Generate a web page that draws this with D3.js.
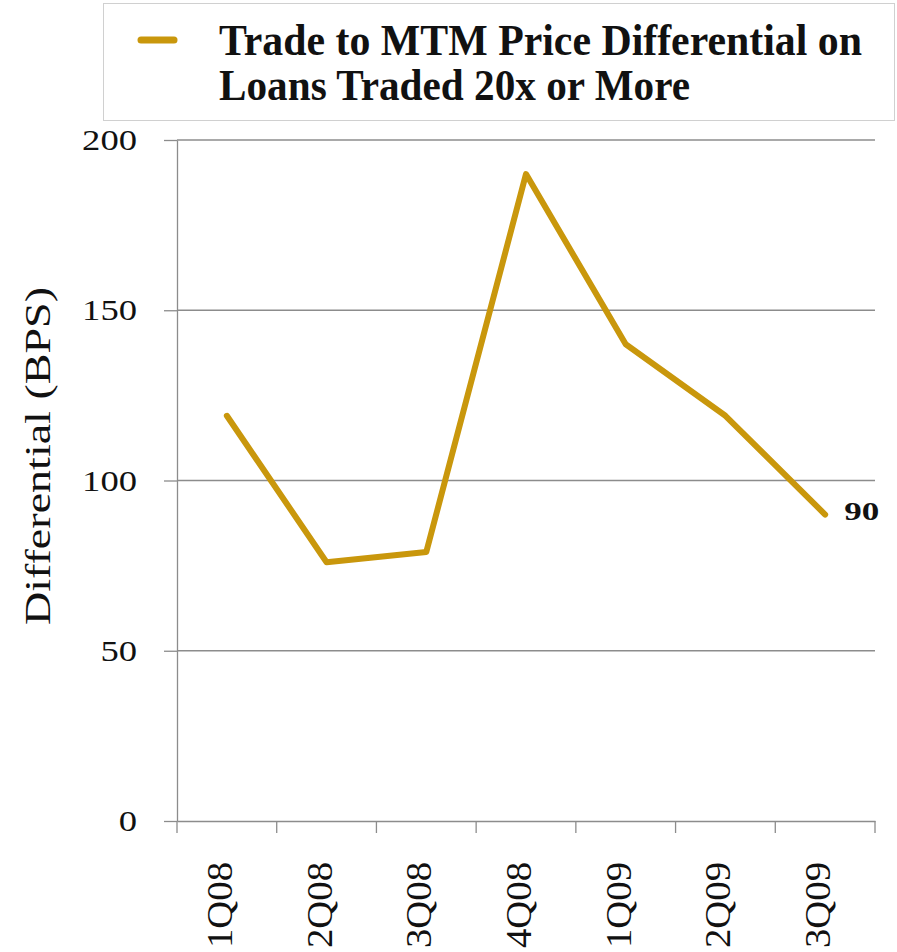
<!DOCTYPE html>
<html>
<head>
<meta charset="utf-8">
<script src="https://cdn.jsdelivr.net/npm/d3@7"></script>
<style>
  html, body { margin: 0; padding: 0; background: #fff; }
  svg { display: block; }
  text { font-family: "Liberation Serif", "DejaVu Serif", serif; }
</style>
</head>
<body>
<svg id="chart" width="897" height="952"></svg>
<script>
// Quarterly trade-to-MTM differential, basis points
const quarters = ["1Q08", "2Q08", "3Q08", "4Q08", "1Q09", "2Q09", "3Q09"];
const differential = [119, 76, 79, 190, 140, 119, 90];
const yTicks = [0, 50, 100, 150, 200];
const seriesName = ["Trade to MTM Price Differential on", "Loans Traded 20x or More"];
const yTitle = "Differential (BPS)";

const lineColor = "#C9970C";
const gridColor = "#8c8c8c";

const svg = d3.select("#chart");
const plot = { left: 177, right: 875, top: 140, bottom: 821 };

const x = d3.scaleBand().domain(quarters).range([plot.left, plot.right]);
const y = d3.scaleLinear().domain([0, 200]).range([plot.bottom, plot.top]);

// Horizontal gridlines
svg.append("g")
  .selectAll("line")
  .data(yTicks.filter(d => d > 0))
  .join("line")
  .attr("x1", plot.left).attr("x2", plot.right)
  .attr("y1", d => y(d)).attr("y2", d => y(d))
  .attr("stroke", gridColor).attr("stroke-width", 1.3);

// Y axis
const yAxis = svg.append("g")
  .attr("transform", `translate(${plot.left},0)`)
  .call(d3.axisLeft(y).tickValues(yTicks).tickSize(13).tickPadding(27).tickSizeOuter(0));
yAxis.select(".domain").attr("stroke", gridColor).attr("stroke-width", 1.3);
yAxis.selectAll(".tick line").attr("stroke", gridColor).attr("stroke-width", 1.3);
yAxis.selectAll(".tick text")
  .attr("font-size", 30).attr("fill", "#111")
  .attr("textLength", d => String(d).length * 18.3)
  .attr("lengthAdjust", "spacingAndGlyphs")
  .style("font-family", "'Liberation Serif', serif");

// X axis
const xAxis = svg.append("g")
  .attr("transform", `translate(0,${plot.bottom})`)
  .call(d3.axisBottom(x).tickSize(0).tickSizeOuter(0));
xAxis.select(".domain").attr("stroke", gridColor).attr("stroke-width", 1.3);
xAxis.selectAll(".tick text").remove();

// Tick marks at band boundaries
const bounds = quarters.map(q => x(q)).concat([x(quarters[quarters.length - 1]) + x.bandwidth()]);
xAxis.append("g").selectAll("line")
  .data(bounds)
  .join("line")
  .attr("x1", d => d).attr("x2", d => d)
  .attr("y1", 0).attr("y2", 12)
  .attr("stroke", gridColor).attr("stroke-width", 1.3);

// Rotated category labels
xAxis.append("g").selectAll("text")
  .data(quarters)
  .join("text")
  .attr("transform", d => `translate(${x(d) + x.bandwidth() / 2 + 5},41) rotate(-90)`)
  .attr("text-anchor", "end")
  .attr("font-size", 35)
  .attr("textLength", 86)
  .attr("lengthAdjust", "spacingAndGlyphs")
  .attr("fill", "#111")
  .text(d => d);

// Y axis title
svg.append("text")
  .attr("transform", `translate(50,456) rotate(-90)`)
  .attr("text-anchor", "middle")
  .attr("font-size", 35)
  .attr("textLength", 338)
  .attr("lengthAdjust", "spacingAndGlyphs")
  .attr("fill", "#111")
  .text(yTitle);

// Series line
const line = d3.line()
  .x((d, i) => x(quarters[i]) + x.bandwidth() / 2)
  .y(d => y(d));
svg.append("path")
  .datum(differential)
  .attr("d", line)
  .attr("fill", "none")
  .attr("stroke", lineColor)
  .attr("stroke-width", 6)
  .attr("stroke-linejoin", "round")
  .attr("stroke-linecap", "round");

// Last value label
const last = differential.length - 1;
svg.append("text")
  .attr("x", x(quarters[last]) + x.bandwidth() / 2 + 19)
  .attr("y", y(differential[last]) + 5)
  .attr("font-size", 25)
  .attr("font-weight", "bold")
  .attr("textLength", 35)
  .attr("lengthAdjust", "spacingAndGlyphs")
  .attr("fill", "#111")
  .text(differential[last]);

// Legend
const legend = svg.append("g");
legend.append("rect")
  .attr("x", 103.5).attr("y", 3.5).attr("width", 791).attr("height", 117)
  .attr("fill", "#fff").attr("stroke", "#d0d0d0").attr("stroke-width", 1);
legend.append("line")
  .attr("x1", 141).attr("x2", 174).attr("y1", 40).attr("y2", 40)
  .attr("stroke", lineColor).attr("stroke-width", 7).attr("stroke-linecap", "round");
const legendWidths = [643, 471];
legend.selectAll("text.series")
  .data(seriesName)
  .join("text")
  .attr("class", "series")
  .attr("x", 219)
  .attr("y", (d, i) => 55 + i * 45)
  .attr("font-size", 44)
  .attr("font-weight", "bold")
  .attr("textLength", (d, i) => legendWidths[i])
  .attr("lengthAdjust", "spacingAndGlyphs")
  .attr("fill", "#111")
  .text(d => d);
</script>
</body>
</html>
